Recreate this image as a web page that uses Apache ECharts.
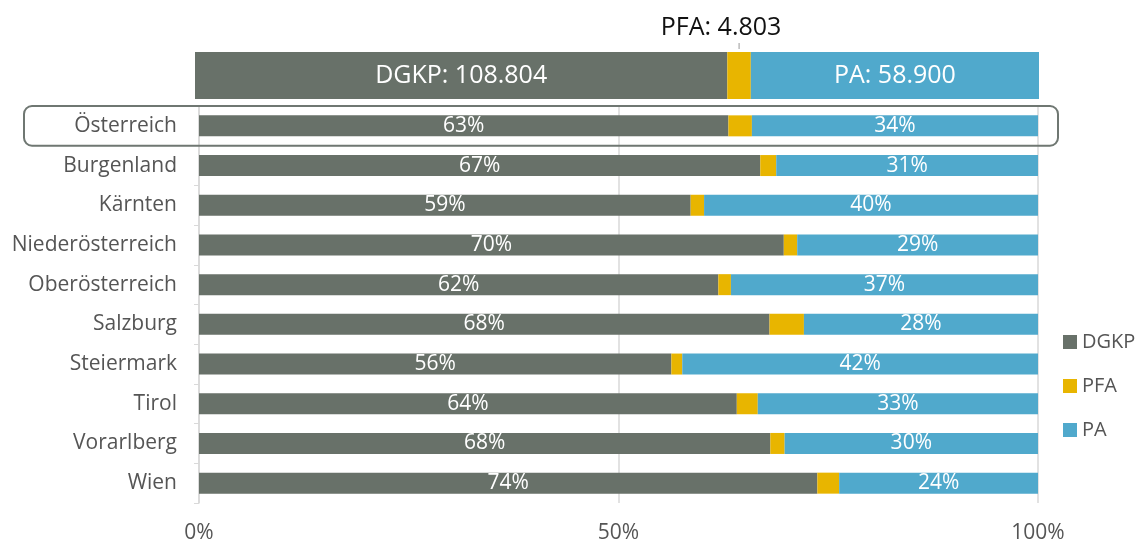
<!DOCTYPE html>
<html><head><meta charset="utf-8">
<script src="https://cdn.jsdelivr.net/npm/echarts@6/dist/echarts.min.js"></script>
<style>html,body{margin:0;padding:0;background:#fff}#c{width:1137px;height:542px}</style>
</head><body><div id="c"></div>
<script>
const categories = ['Österreich','Burgenland','Kärnten','Niederösterreich','Oberösterreich','Salzburg','Steiermark','Tirol','Vorarlberg','Wien'];
const dgkp = [63.1, 66.9, 58.6, 69.7, 61.9, 68.0, 56.3, 64.1, 68.1, 73.7];
const pfa  = [2.8, 1.9, 1.6, 1.6, 1.5, 4.1, 1.3, 2.5, 1.7, 2.6];
const pa   = [34.1, 31.2, 39.8, 28.7, 36.6, 27.9, 42.4, 33.4, 30.2, 23.7];
const totalNames = ['DGKP','PFA','PA'];
const totals = [108804, 4803, 58900];
const xTicks = [0, 50, 100];

const colors = {DGKP:'#687169', PFA:'#e8b500', PA:'#50a9cc'};
const FONT = 'Open Sans';
function fmt(n){return String(n).replace(/\B(?=(\d{3})+(?!\d))/g,'.');}

const chart = echarts.init(document.getElementById('c'), null, {renderer:'canvas'});
const mainSeries = [['DGKP',dgkp],['PFA',pfa],['PA',pa]].map(([n,d])=>({
  name:n, type:'bar', stack:'main', xAxisIndex:0, yAxisIndex:0,
  data:d, barWidth:21, itemStyle:{color:colors[n]},
  label:{show:n!=='PFA', position:'inside', color:'#fff', fontFamily:FONT, fontSize:21,
    formatter:p=>Math.round(p.value)+'%'},
  emphasis:{disabled:true}, animation:false
}));
const topSeries = totalNames.map((n,i)=>({
  name:n, type:'bar', stack:'top', xAxisIndex:1, yAxisIndex:1,
  data:[totals[i]], barWidth:'100%', itemStyle:{color:colors[n]},
  label: n==='PFA' ? {show:true, position:'top', distance:3, fontFamily:FONT,
      formatter:'{t|PFA: '+fmt(totals[i])+'}\n{l|}',
      rich:{t:{fontSize:25, color:'#111', fontFamily:FONT, lineHeight:30, padding:[0,36,0,0]},
            l:{width:1, height:6, backgroundColor:'#999'}}}
    : {show:true, position:'inside', color:'#fff', fontFamily:FONT, fontSize:25,
      formatter:n+': '+fmt(totals[i])},
  emphasis:{disabled:true}, animation:false
}));

chart.setOption({
  animation:false,
  textStyle:{fontFamily:FONT},
  legend:{data:totalNames, orient:'vertical', left:1058, top:327, icon:'rect',
    itemWidth:14, itemHeight:14, itemGap:24, itemStyle:{borderWidth:0},
    textStyle:{fontFamily:FONT, fontSize:20, color:'#555'}},
  grid:[
    {left:199, right:99, top:106, bottom:39, outerBoundsMode:'none', containLabel:false},
    {left:195, right:98, top:52, height:47, outerBoundsMode:'none', containLabel:false}
  ],
  xAxis:[
    {type:'value', gridIndex:0, min:0, max:100, interval:50,
     axisLine:{show:false}, axisTick:{show:false},
     splitLine:{lineStyle:{color:'#d9d9d9', width:1.5}},
     axisLabel:{fontFamily:FONT, fontSize:21, color:'#555', margin:20,
       formatter:v=>xTicks.includes(v)?v+'%':''}},
    {type:'value', gridIndex:1, min:0, max:totals.reduce((a,b)=>a+b,0), show:false}
  ],
  yAxis:[
    {type:'category', gridIndex:0, data:categories, inverse:true,
     axisLine:{lineStyle:{color:'#d9d9d9', width:1.5}},
     axisTick:{show:true, length:5, lineStyle:{color:'#d9d9d9'}},
     axisLabel:{fontFamily:FONT, fontSize:21, color:'#555', margin:22}},
    {type:'category', gridIndex:1, data:['Gesamt'], show:false}
  ],
  series:[...mainSeries, ...topSeries]
});

const yc = chart.convertToPixel({yAxisIndex:0}, categories[0]);
const band = (chart.convertToPixel({yAxisIndex:0}, categories[1]) - yc);
chart.setOption({graphic:[{type:'rect', shape:{x:24, y:yc-band/2, width:1034, height:band, r:8},
  style:{fill:'none', stroke:'#6f7772', lineWidth:2}, z:100, silent:true}]});
</script></body></html>
